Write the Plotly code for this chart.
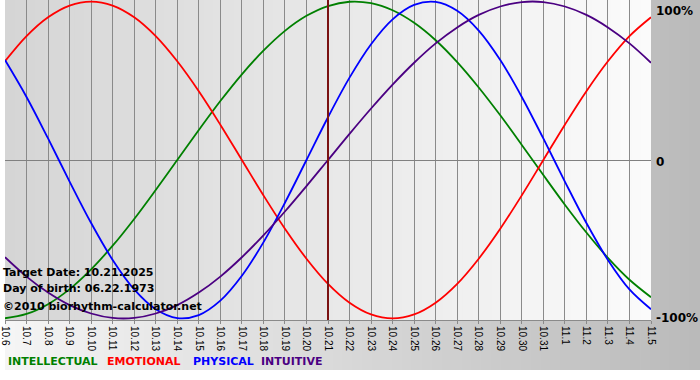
import plotly.graph_objects as go

# ---------------- data ----------------
dates = ["10.6", "10.7", "10.8", "10.9", "10.10", "10.11", "10.12", "10.13", "10.14",
         "10.15", "10.16", "10.17", "10.18", "10.19", "10.20", "10.21", "10.22", "10.23",
         "10.24", "10.25", "10.26", "10.27", "10.28", "10.29", "10.30", "10.31", "11.1",
         "11.2", "11.3", "11.4", "11.5"]

intellectual = [-0.999, -0.972, -0.910, -0.815, -0.690, -0.541, -0.372, -0.189, 0.000,
                0.189, 0.372, 0.541, 0.690, 0.815, 0.910, 0.972, 0.999, 0.990, 0.945,
                0.866, 0.756, 0.618, 0.458, 0.282, 0.095, -0.095, -0.282, -0.458, -0.618,
                -0.756, -0.866]
emotional = [0.623, 0.782, 0.901, 0.975, 1.000, 0.975, 0.901, 0.782, 0.623, 0.434, 0.223,
             0.000, -0.223, -0.434, -0.623, -0.782, -0.901, -0.975, -1.000, -0.975, -0.901,
             -0.782, -0.623, -0.434, -0.223, 0.000, 0.223, 0.434, 0.623, 0.782, 0.901]
physical = [0.631, 0.398, 0.136, -0.136, -0.398, -0.631, -0.817, -0.942, -0.998, -0.979,
            -0.888, -0.731, -0.520, -0.270, 0.000, 0.270, 0.520, 0.731, 0.888, 0.979, 0.998,
            0.942, 0.817, 0.631, 0.398, 0.136, -0.136, -0.398, -0.631, -0.817, -0.942]
intuitive = [-0.614, -0.736, -0.837, -0.916, -0.969, -0.997, -0.997, -0.969, -0.916, -0.837,
             -0.736, -0.614, -0.476, -0.325, -0.165, 0.000, 0.165, 0.325, 0.476, 0.614,
             0.736, 0.837, 0.916, 0.969, 0.997, 0.997, 0.969, 0.916, 0.837, 0.736, 0.614]

series_names = ["INTELLECTUAL", "EMOTIONAL", "PHYSICAL", "INTUITIVE"]
series_values = [intellectual, emotional, physical, intuitive]

y_tick_vals = [1, 0, -1]
y_tick_text = ["100%", "0", "-100%"]

target_label = "10.21"
target_date = "10.21.2025"
birth_date = "06.22.1973"
credit = "\u00a92010 biorhythm-calculator.net"

# ---------------- styles / layout ----------------
colors = ["#008000", "#ff0000", "#0000ff", "#4b0082"]
legend_x_px = [7, 107, 193, 262]

W, H = 700, 380
L, R, T, B = 0, 49, 0, 60
PW, PH = W - L - R, H - T - B


def px(xp):
    return (xp - L) / PW


def py(yp):
    return (T + PH - yp) / PH


def grey(v):
    v = int(round(v))
    return f"rgb({v},{v},{v})"


fig = go.Figure()

for name, vals, col in zip(series_names, series_values, colors):
    fig.add_trace(go.Scatter(x=dates, y=vals, mode="lines", name=name,
                             line=dict(color=col, width=1.8, shape="spline", smoothing=1),
                             hoverinfo="skip", showlegend=False))

shapes = []
# outer background gradient (light left -> grey right)
N = 70
for i in range(N):
    x0 = i * W / N
    x1 = (i + 1) * W / N + 0.8
    c = 245 + (186 - 245) * (i + 0.5) / N
    shapes.append(dict(type="rect", xref="paper", yref="paper", layer="below",
                       x0=px(x0), x1=px(x1), y0=py(370), y1=py(0),
                       fillcolor=grey(c), line=dict(width=0)))
# plot area gradient (grey left -> white right)
N2 = 65
for i in range(N2):
    x0 = i * PW / N2
    x1 = (i + 1) * PW / N2 + 0.8
    if x1 > PW:
        x1 = PW
    c = 213 + (251 - 213) * (i + 0.5) / N2
    shapes.append(dict(type="rect", xref="paper", yref="paper", layer="below",
                       x0=px(x0), x1=px(x1), y0=0, y1=1,
                       fillcolor=grey(c), line=dict(width=0)))

tidx = dates.index(target_label)
shapes.append(dict(type="line", xref="x", yref="paper", x0=tidx, x1=tidx, y0=0, y1=1,
                   line=dict(color="#7a1212", width=2)))

annotations = []
info_font = dict(family="DejaVu Sans", size=11, color="black")
for text, ypix in [(f"Target Date: {target_date}", 272),
                   (f"Day of birth: {birth_date}", 288),
                   (credit, 306)]:
    annotations.append(dict(text=f"<b>{text}</b>", xref="paper", yref="paper",
                            x=px(2), y=py(ypix), xanchor="left", yanchor="middle",
                            xshift=-6, showarrow=False, font=info_font))

for name, col, xp in zip(series_names, colors, legend_x_px):
    annotations.append(dict(text=f"<b>{name}</b>", xref="paper", yref="paper",
                            x=px(xp), y=py(361), xanchor="left", yanchor="middle",
                            xshift=-6, showarrow=False,
                            font=dict(family="DejaVu Sans", size=11, color=col)))

for v, t in zip(y_tick_vals, y_tick_text):
    annotations.append(dict(text=f"<b>{t}</b>", xref="paper", yref="y",
                            x=1, y=v, xanchor="left",
                            yanchor="top" if v == max(y_tick_vals) else "middle",
                            xshift=3, yshift=(-2 if v == 0 else 0),
                            showarrow=False,
                            font=dict(family="DejaVu Sans", size=12, color="black")))

fig.update_layout(
    width=W, height=H, autosize=False,
    margin=dict(l=L, r=R, t=T, b=B, pad=0),
    paper_bgcolor="white", plot_bgcolor="rgba(0,0,0,0)",
    shapes=shapes, annotations=annotations,
    showlegend=False,
)
fig.update_xaxes(type="category", range=[0, len(dates) - 1], showgrid=True,
                 gridcolor="#8a8a8a", gridwidth=1, ticks="outside", ticklen=3,
                 tickcolor="#8a8a8a", tickangle=90,
                 tickfont=dict(family="Liberation Sans", size=10, color="black"),
                 showline=True, linecolor="#8a8a8a", linewidth=1, zeroline=False,
                 fixedrange=True)
fig.update_yaxes(range=[-1.01, 1.01], showgrid=False, zeroline=True,
                 zerolinecolor="#808080", zerolinewidth=1, showticklabels=False,
                 ticks="", showline=False, fixedrange=True)

fig.write_html("out.html", config={"displayModeBar": False},
               post_script="document.body.style.margin='0';document.body.style.padding='0';")
